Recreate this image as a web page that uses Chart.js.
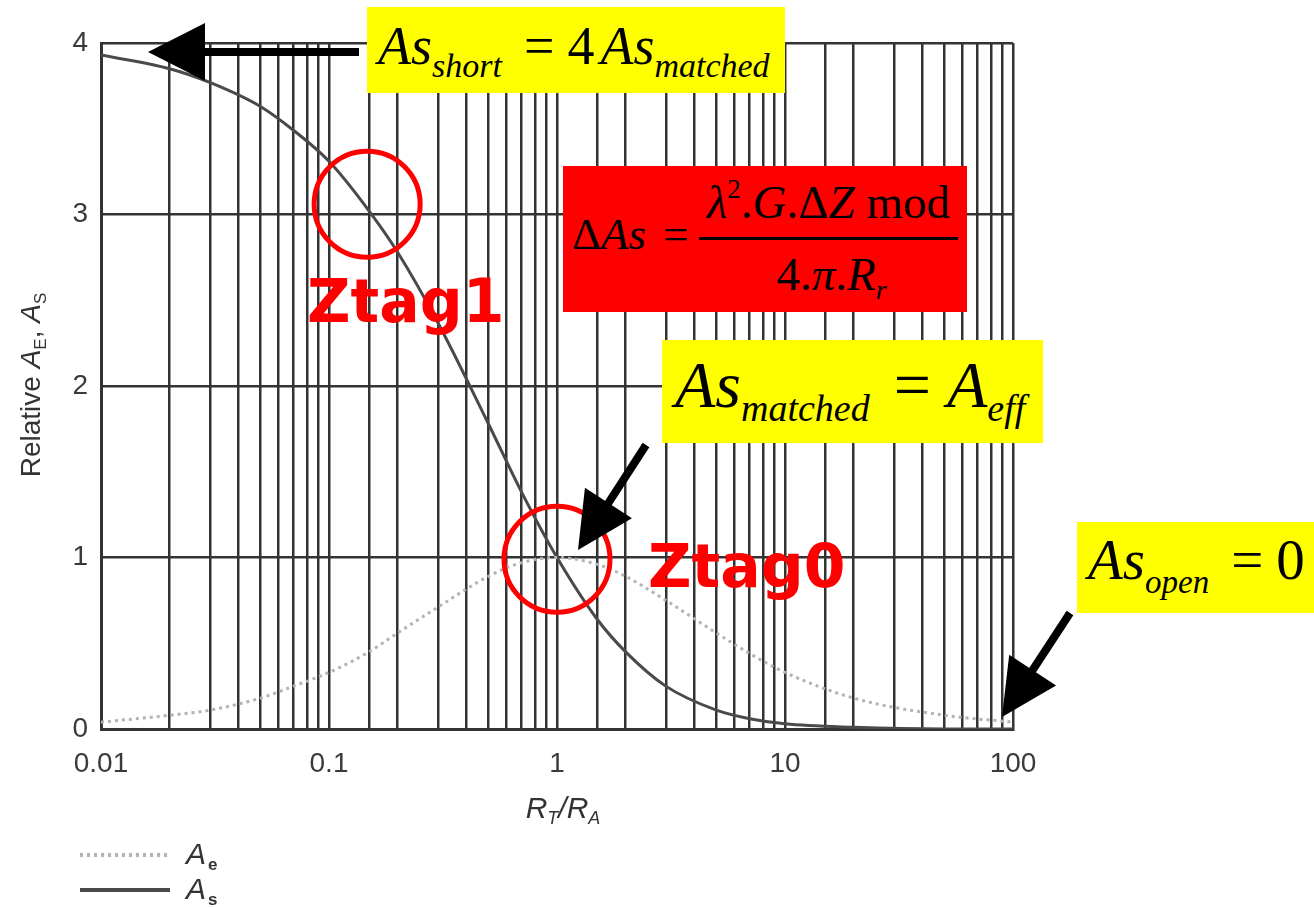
<!DOCTYPE html>
<html>
<head>
<meta charset="utf-8">
<script src="https://cdn.jsdelivr.net/npm/chart.js"></script>
<style>
  body { margin: 0; background: #fff; }
  #wrap { position: relative; width: 1314px; height: 907px; overflow: hidden; }
  #holder { position: absolute; left: 0; top: 0; width: 1314px; height: 907px; }
  .box { position: absolute; }
  .yellow { background: #ffff00; }
  .red { background: #ff0000; }
  .eq { position: absolute; white-space: nowrap; font-family: 'Liberation Serif', 'Times New Roman', serif; color: #000; line-height: 1; }
  .eq i { font-style: italic; }
  .sb { font-style: italic; position: relative; }
  .ztag { position: absolute; color: #ff0000; font-family: 'DejaVu Sans', sans-serif; font-weight: bold; font-size: 60px; line-height: 1; white-space: nowrap; }
</style>
</head>
<body>
<div id="wrap">
  <div id="holder"><canvas id="chart-1"></canvas></div>

  <div class="box yellow" style="left:367px;top:7px;width:418px;height:86px">
    <div class="eq" style="left:11px;top:12px;font-size:54px"><i>As</i><span class="sb" style="font-size:34px;top:13px">short</span><span style="margin-left:22px">=</span><span style="margin-left:13px">4</span><i style="margin-left:6px">As</i><span class="sb" style="font-size:34px;top:13px">matched</span></div>
  </div>

  <div class="box red" style="left:563px;top:166px;width:404px;height:146px">
    <div class="eq" style="left:9px;top:46px;font-size:45px">&Delta;<i>As</i><span style="margin-left:17px">=</span></div>
    <div class="eq" style="left:136px;top:13px;width:259px;text-align:center;font-size:47px"><i>&lambda;</i><span style="font-size:27px;position:relative;top:-20px">2</span>.<i>G</i>.&Delta;<i>Z</i> mod</div>
    <div style="position:absolute;left:136px;top:71px;width:259px;height:3px;background:#000"></div>
    <div class="eq" style="left:139px;top:85px;width:259px;text-align:center;font-size:47px">4.<i>&pi;</i>.<i>R</i><span class="sb" style="font-size:28px;top:9px">r</span></div>
  </div>

  <div class="box yellow" style="left:662px;top:340px;width:381px;height:103px">
    <div class="eq" style="left:13px;top:12px;font-size:66px"><i>As</i><span class="sb" style="font-size:38px;top:14px">matched</span><span style="margin-left:24px">=</span><i style="margin-left:16px">A</i><span class="sb" style="font-size:38px;top:14px">eff</span></div>
  </div>

  <div class="box yellow" style="left:1077px;top:522px;width:237px;height:91px">
    <div class="eq" style="left:11px;top:9px;font-size:57px"><i>As</i><span class="sb" style="font-size:33px;top:14px">open</span><span style="margin-left:22px">=</span><span style="margin-left:13px">0</span></div>
  </div>

  <div class="ztag" style="left:307px;top:271px">Ztag1</div>
  <div class="ztag" style="left:648px;top:536px">Ztag0</div>
</div>

<script>
// R_T / R_A values
const ratio = [0.01, 0.02, 0.03, 0.05, 0.07, 0.1, 0.15, 0.2, 0.3, 0.5, 0.7, 1, 1.5, 2, 3, 5, 7, 10, 20, 50, 100];
// relative A_S (solid line)
const asRel = [3.93, 3.85, 3.77, 3.63, 3.49, 3.31, 3.02, 2.78, 2.37, 1.78, 1.38, 1.0, 0.64, 0.45, 0.25, 0.11, 0.06, 0.03, 0.01, 0.0, 0.0];
// relative A_E (dotted line)
const aeRel = [0.04, 0.08, 0.11, 0.18, 0.25, 0.33, 0.45, 0.56, 0.71, 0.89, 0.97, 1.0, 0.96, 0.89, 0.75, 0.56, 0.44, 0.33, 0.18, 0.08, 0.04];

const xTickLabels = ['0.01', '0.1', '1', '10', '100'];
const yTickLabels = ['0', '1', '2', '3', '4'];
const seriesNames = ['Ae', 'As'];

const gridColor = '#333';
const labelFont = 'Liberation Sans';

function toPoints(vals) {
  return ratio.map((r, i) => ({ x: r, y: vals[i] }));
}

// draws a run of text pieces (normal / italic / subscript) centred on x
function drawRuns(ctx, runs, x, y) {
  let w = 0;
  runs.forEach(r => { ctx.font = r.font; w += ctx.measureText(r.t).width; });
  let cx = x - w / 2;
  runs.forEach(r => {
    ctx.font = r.font;
    ctx.fillText(r.t, cx, y + (r.dy || 0));
    cx += ctx.measureText(r.t).width;
  });
}

function arrow(ctx, x1, y1, x2, y2, headLen, headHalf, shaft) {
  const a = Math.atan2(y2 - y1, x2 - x1);
  const bx = x2 - headLen * Math.cos(a), by = y2 - headLen * Math.sin(a);
  ctx.save();
  ctx.strokeStyle = '#000';
  ctx.fillStyle = '#000';
  ctx.lineWidth = shaft;
  ctx.lineCap = 'butt';
  ctx.beginPath();
  ctx.moveTo(x1, y1);
  ctx.lineTo(bx + 2 * Math.cos(a), by + 2 * Math.sin(a));
  ctx.stroke();
  ctx.beginPath();
  ctx.moveTo(x2, y2);
  ctx.lineTo(bx + headHalf * Math.sin(a), by - headHalf * Math.cos(a));
  ctx.lineTo(bx - headHalf * Math.sin(a), by + headHalf * Math.cos(a));
  ctx.closePath();
  ctx.fill();
  ctx.restore();
}

const extras = {
  id: 'extras',
  afterDatasetsDraw(chart) {
    const ctx = chart.ctx;
    const xs = chart.scales.x, ys = chart.scales.y;
    // red rings on the Ztag points
    ctx.save();
    ctx.strokeStyle = '#ff0000';
    ctx.lineWidth = 5;
    [[0.147, 3.06], [1.0, 0.99]].forEach(p => {
      ctx.beginPath();
      ctx.arc(xs.getPixelForValue(p[0]), ys.getPixelForValue(p[1]), 53, 0, Math.PI * 2);
      ctx.stroke();
    });
    ctx.restore();

    arrow(ctx, 359, 52, 148, 52, 57, 29, 8);
    arrow(ctx, 646, 445, 578, 550, 56, 28, 8);
    arrow(ctx, 1070, 613, 1002, 717, 56, 28, 8);
  },
  afterDraw(chart) {
    const ctx = chart.ctx;
    ctx.save();
    ctx.fillStyle = '#333';
    ctx.textBaseline = 'alphabetic';
    // x axis title
    drawRuns(ctx, [
      { t: 'R', font: 'italic 30px ' + labelFont },
      { t: 'T', font: 'italic 18px ' + labelFont, dy: 6 },
      { t: '/R', font: 'italic 30px ' + labelFont },
      { t: 'A', font: 'italic 18px ' + labelFont, dy: 6 }
    ], 563, 818);

    // y axis title
    ctx.save();
    ctx.translate(40, 385);
    ctx.rotate(-Math.PI / 2);
    drawRuns(ctx, [
      { t: 'Relative ', font: '28px ' + labelFont },
      { t: 'A', font: 'italic 28px ' + labelFont },
      { t: 'E', font: '17px ' + labelFont, dy: 6 },
      { t: ', ', font: '28px ' + labelFont },
      { t: 'A', font: 'italic 28px ' + labelFont },
      { t: 'S', font: '17px ' + labelFont, dy: 6 }
    ], 0, 0);
    ctx.restore();

    // legend
    chart.data.datasets.forEach((ds, i) => {
      const y = [855, 890][i];
      ctx.save();
      ctx.strokeStyle = ds.borderColor;
      ctx.lineWidth = ds.borderWidth + 1;
      ctx.setLineDash(ds.borderDash || []);
      ctx.beginPath();
      ctx.moveTo(80, y);
      ctx.lineTo(170, y);
      ctx.stroke();
      ctx.restore();
      ctx.fillStyle = '#333';
      ctx.font = 'italic 30px ' + labelFont;
      ctx.fillText(ds.label.charAt(0), 186, y + 9);
      ctx.font = 'bold 17px ' + labelFont;
      ctx.fillText(ds.label.slice(1), 208, y + 15);
    });
    ctx.restore();
  }
};

new Chart(document.getElementById('chart-1'), {
  type: 'scatter',
  data: {
    datasets: [
      {
        label: seriesNames[0],
        data: toPoints(aeRel),
        showLine: true,
        borderColor: '#b3b3b3',
        borderWidth: 3,
        borderDash: [3, 4],
        pointRadius: 0,
        cubicInterpolationMode: 'monotone'
      },
      {
        label: seriesNames[1],
        data: toPoints(asRel),
        showLine: true,
        borderColor: '#4a4a4a',
        borderWidth: 3,
        pointRadius: 0,
        cubicInterpolationMode: 'monotone'
      }
    ]
  },
  options: {
    responsive: true,
    maintainAspectRatio: false,
    animation: false,
    layout: { padding: { left: 0, right: 301, top: 43, bottom: 0 } },
    plugins: { legend: { display: false }, tooltip: { enabled: false } },
    scales: {
      x: {
        type: 'logarithmic',
        min: 0.01,
        max: 100,
        afterFit(s) { s.height = 178; },
        grid: { color: gridColor, lineWidth: 2.5, drawTicks: false },
        border: { color: gridColor, width: 3 },
        ticks: {
          autoSkip: false,
          maxRotation: 0,
          padding: 18,
          color: '#3a3a3a',
          font: { family: labelFont, size: 28 },
          callback(v) {
            const lbl = xTickLabels.find(t => Math.abs(Number(t) - v) < v * 1e-6);
            return lbl !== undefined ? lbl : '';
          }
        }
      },
      y: {
        min: 0,
        max: 4,
        afterFit(s) { s.width = 101; },
        grid: { color: gridColor, lineWidth: 2.5, drawTicks: false },
        border: { color: gridColor, width: 3 },
        ticks: {
          stepSize: 1,
          padding: 13,
          color: '#3a3a3a',
          font: { family: labelFont, size: 28 },
          callback(v) { return yTickLabels[v]; }
        }
      }
    }
  },
  plugins: [extras]
});
</script>
</body>
</html>
